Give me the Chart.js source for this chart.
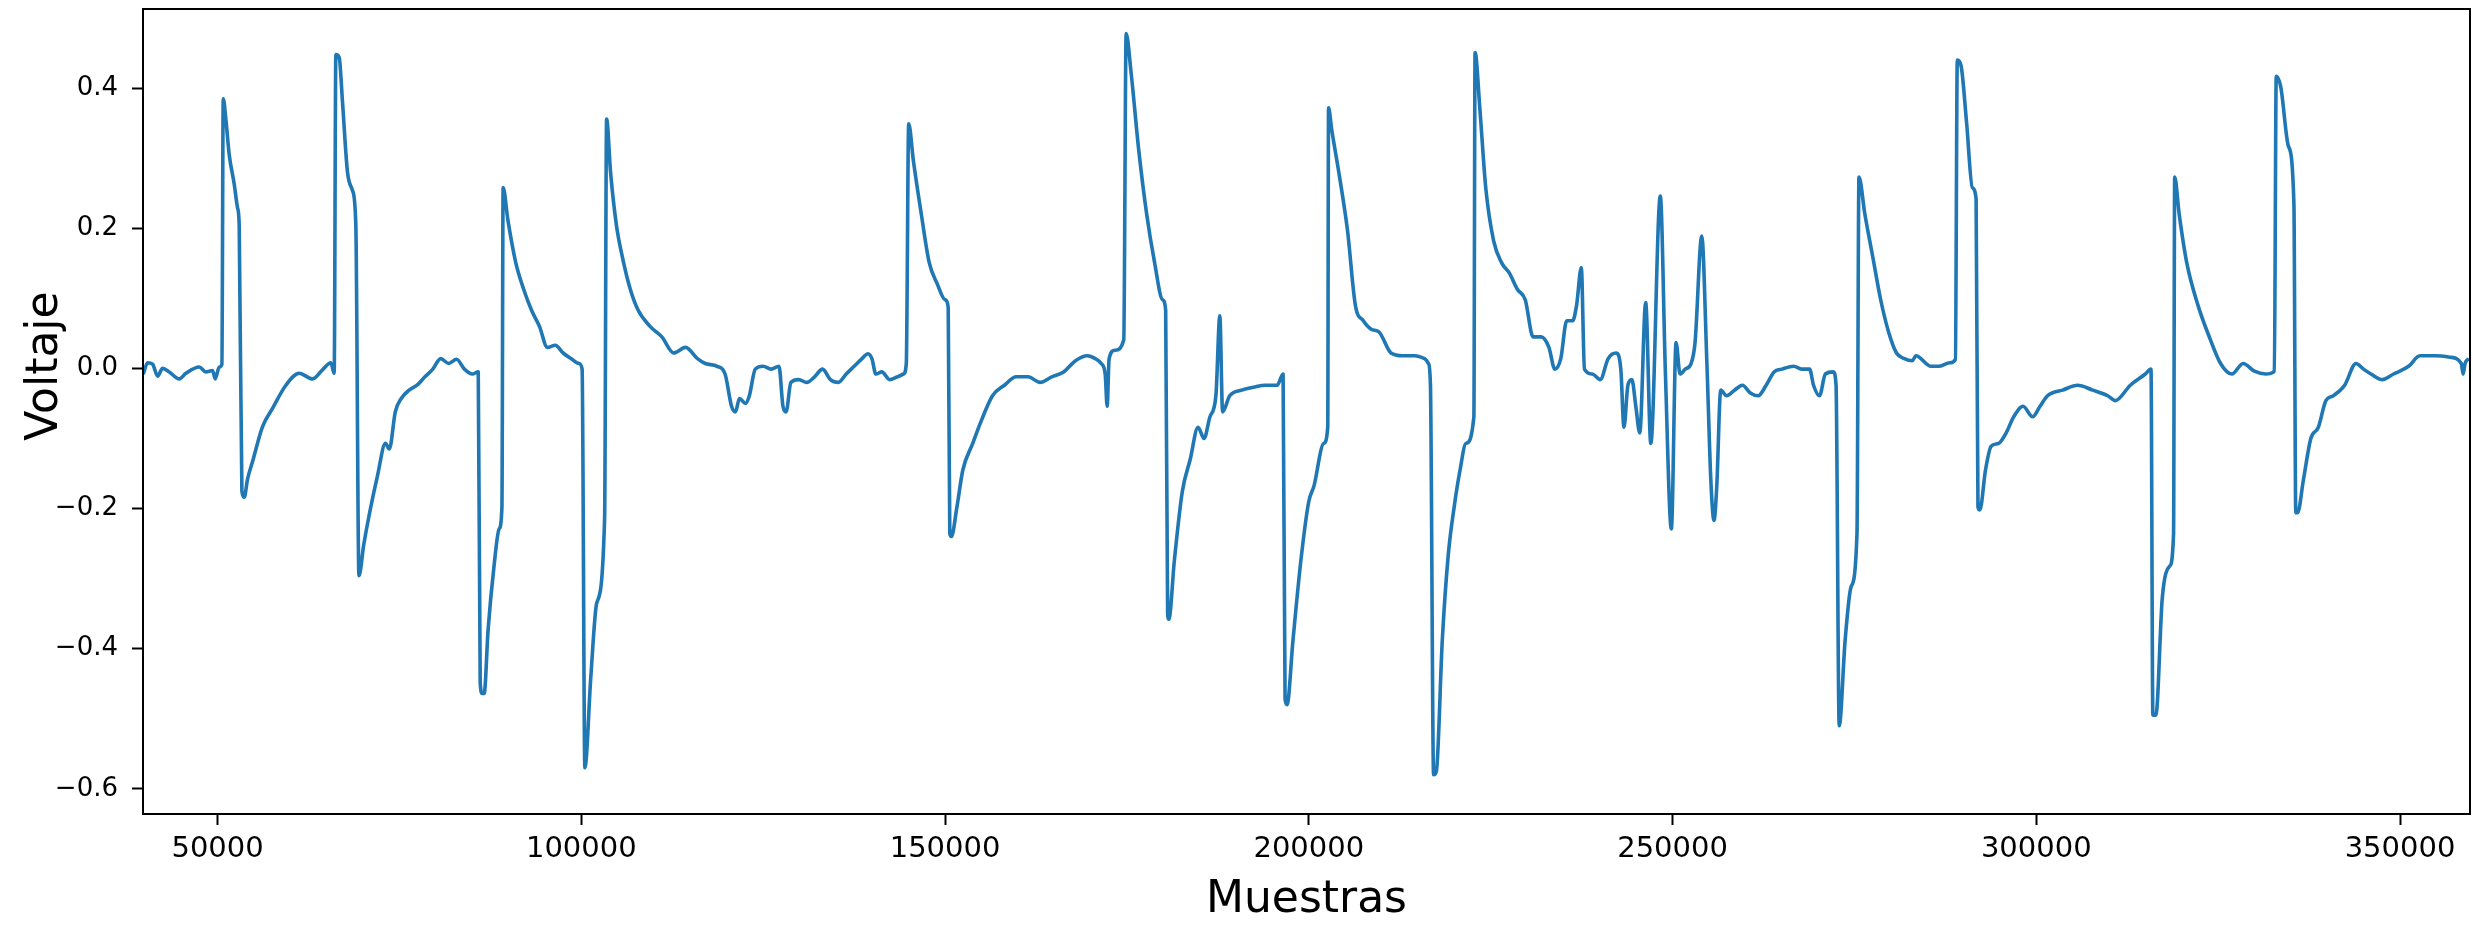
<!DOCTYPE html>
<html>
<head>
<meta charset="utf-8">
<script src="https://cdn.jsdelivr.net/npm/chart.js@4.4.1/dist/chart.umd.min.js"></script>
<style>
  html, body { margin: 0; padding: 0; background: #fff; }
  #wrap { width: 2473px; height: 929px; position: relative; }
</style>
</head>
<body>
<div id="wrap"><canvas id="senalChart"></canvas></div>
<script>
// Muestras (eje x)
const samples = [
  39787, 40382, 41070, 41756, 42443, 43359, 44733, 45649, 47481, 48397, 49313, 49679, 50229, 50595,
  50779, 51145, 51603, 52290, 52748, 52977, 53343, 53664, 54122, 54809, 56183, 57557, 59389, 61221,
  63053, 64427, 65572, 66030, 66259, 66717, 67175, 67862, 68549, 69007, 69436, 70087, 70901, 71987,
  73073, 73616, 74430, 75245, 76331, 77417, 78503, 79589, 80675, 81761, 82847, 83933, 85019, 85833,
  86103, 86374, 86646, 87189, 88003, 88709, 89089, 89252, 89903, 90989, 92075, 93161, 94246, 95332,
  96418, 97504, 98590, 99676, 100110, 100490, 101304, 102119, 103204, 103476, 104019, 104833, 105647,
  106733, 107819, 109447, 111076, 112705, 114334, 115963, 117048, 118677, 119763, 120651, 121194,
  121738, 122553, 123097, 123912, 125000, 126087, 127174, 127718, 128152, 128804, 129891, 130978,
  132065, 133152, 134239, 135326, 136413, 137500, 138587, 139402, 139946, 140489, 141304, 142391,
  143478, 144294, 144674, 145000, 145652, 146739, 147826, 148913, 150000, 150435, 150652, 150870,
  151630, 152446, 153805, 154892, 156522, 158152, 159783, 161413, 163044, 164674, 166305, 167935,
  169566, 170653, 171468, 172012, 172283, 172555, 173370, 174566, 174892, 175544, 176631, 177718,
  178805, 179892, 180327, 180598, 180761, 181522, 182609, 183696, 184783, 185598, 186414, 187229,
  187772, 188152, 189130, 190761, 192391, 194022, 195652, 196467, 196739, 197011, 197826, 198913,
  200000, 200706, 202063, 202606, 202714, 203149, 204235, 205320, 206406, 207492, 208578, 209664,
  211293, 212921, 214550, 215907, 216450, 216722, 217156, 217536, 218350, 219164, 219979, 220793,
  221607, 222693, 222856, 223507, 224322, 225408, 226493, 227579, 228665, 229751, 230837, 231923,
  233008, 233823, 234637, 235452, 236266, 236809, 237460, 237894, 238980, 240066, 241152, 242237,
  242889, 243323, 243866, 244409, 244952, 245495, 246309, 247015, 248318, 249024, 249838, 250489,
  251032, 251738, 252552, 253095, 254018, 254724, 255267, 255701, 256081, 256624, 257438, 258524,
  259610, 260696, 261781, 262867, 263953, 265039, 266668, 267753, 268839, 269382, 270197, 271011,
  272097, 272477, 272911, 273725, 274540, 275354, 275626, 276440, 277526, 278612, 279698, 280784,
  281870, 282956, 283456, 285524, 286558, 288109, 288884, 289143, 289660, 290435, 291211, 291728,
  291986, 292245, 293021, 293796, 294830, 295864, 296898, 298190, 299483, 300517, 301551, 303619,
  305687, 307755, 309823, 310857, 312925, 314993, 315769, 316027, 316441, 317320, 318354, 318871,
  319026, 319646, 320680, 322231, 323782, 325333, 326884, 328435, 329986, 331537, 332726, 332985,
  333605, 334639, 335415, 335673, 335931, 336707, 337741, 338775, 339809, 340843, 342394, 343945,
  344979, 346013, 347564, 349115, 351183, 352734, 354802, 356870, 358421, 358679, 358937, 359454
];

// Voltaje para cada muestra
const voltaje = [
  -0.008, 0.008, 0.006, -0.011, 0.000, -0.005, -0.015, -0.007, 0.002, -0.005, -0.003, -0.015, 0.002, 0.006,
  0.385, 0.355, 0.305, 0.263, 0.229, 0.204, -0.175, -0.184, -0.158, -0.133, -0.083, -0.057, -0.024, -0.007,
  -0.015, -0.002, 0.008, -0.007, 0.448, 0.444, 0.380, 0.280, 0.254, 0.204, -0.296, -0.252, -0.206, -0.153,
  -0.107, -0.115, -0.062, -0.043, -0.031, -0.024, -0.012, -0.001, 0.014, 0.007, 0.013, -0.001, -0.008, -0.005,
  -0.449, -0.464, -0.464, -0.373, -0.282, -0.229, -0.198, 0.258, 0.212, 0.151, 0.113, 0.083, 0.060, 0.030,
  0.033, 0.022, 0.014, 0.007, -0.001, -0.570, -0.441, -0.335, -0.214, 0.356, 0.280, 0.204, 0.159,
  0.113, 0.083, 0.060, 0.045, 0.022, 0.030, 0.014, 0.007, 0.003, -0.008, -0.054, -0.062,
  -0.043, -0.050, -0.039, -0.001, 0.003, -0.001, 0.003, -0.054, -0.062, -0.020, -0.016, -0.020,
  -0.012, -0.001, -0.016, -0.020, -0.008, 0.003, 0.014, 0.021, 0.014, -0.008, -0.005, -0.016,
  -0.012, -0.008, 0.007, 0.349, 0.296, 0.220, 0.151, 0.121, 0.098, 0.087, -0.236, -0.240,
  -0.198, -0.145, -0.107, -0.077, -0.039, -0.024, -0.012, -0.012, -0.020, -0.012, -0.005, 0.011,
  0.018, 0.014, 0.007, -0.008, -0.054, 0.014, 0.026, 0.041, 0.478, 0.425, 0.311, 0.220,
  0.151, 0.098, 0.083, -0.350, -0.358, -0.274, -0.176, -0.130, -0.084, -0.100, -0.069, -0.039,
  0.075, -0.062, -0.039, -0.031, -0.027, -0.024, -0.024, -0.008, -0.472, -0.480, -0.388, -0.274,
  -0.190, -0.168, -0.107, -0.084, 0.372, 0.341, 0.273, 0.197, 0.090, 0.068, 0.056, 0.052,
  0.022, 0.018, 0.018, 0.014, 0.007, -0.024, -0.580, -0.575, -0.388, -0.267, -0.198, -0.145,
  -0.107, -0.069, 0.451, 0.372, 0.258, 0.182, 0.151, 0.136, 0.113, 0.098, 0.045, 0.045,
  0.030, -0.001, 0.014, 0.068, 0.068, 0.090, 0.144, -0.001, -0.008, -0.016, 0.014, 0.022,
  -0.001, -0.084, -0.024, -0.016, -0.054, -0.092, 0.094, -0.107, 0.246, -0.008, -0.229, 0.037,
  -0.008, -0.001, 0.007, 0.037, 0.189, 0.007, -0.160, -0.217, -0.168, -0.031, -0.039, -0.031,
  -0.024, -0.035, -0.039, -0.024, -0.005, -0.001, 0.003, -0.001, -0.001, -0.024, -0.039, -0.008,
  -0.005, -0.024, -0.510, -0.388, -0.312, -0.236, 0.273, 0.220, 0.159, 0.098, 0.052, 0.022,
  0.014, 0.011, 0.018, 0.003, 0.003, 0.008, 0.013, 0.440, 0.432, 0.349, 0.258, 0.242,
  -0.198, -0.202, -0.145, -0.111, -0.107, -0.092, -0.069, -0.054, -0.069, -0.054, -0.039, -0.031,
  -0.024, -0.031, -0.039, -0.046, -0.024, -0.008, -0.001, -0.495, -0.495, -0.328, -0.282, -0.236,
  0.273, 0.220, 0.151, 0.090, 0.045, 0.007, -0.008, 0.007, -0.004, -0.008, -0.004, 0.417,
  0.402, 0.318, 0.235, -0.206, -0.206, -0.160, -0.100, -0.084, -0.046, -0.039, -0.024, 0.007,
  -0.001, -0.008, -0.016, -0.008, 0.003, 0.018, 0.018, 0.016, 0.007, -0.008, 0.007, 0.014
];

// Marcas de los ejes
const xTicks = [50000, 100000, 150000, 200000, 250000, 300000, 350000];
const yTicks = [-0.6, -0.4, -0.2, 0.0, 0.2, 0.4];

const puntos = samples.map((s, i) => ({ x: s, y: voltaje[i] }));

// Marco completo y títulos de los ejes, al estilo matplotlib
const marcoPlugin = {
  id: 'marco',
  afterDraw(chart) {
    const { ctx, chartArea: a } = chart;
    ctx.save();
    ctx.strokeStyle = '#000';
    ctx.lineWidth = 2;
    ctx.strokeRect(a.left, a.top, a.right - a.left, a.bottom - a.top);
    ctx.fillStyle = '#000';
    ctx.font = '44px "DejaVu Sans"';
    ctx.textAlign = 'center';
    ctx.textBaseline = 'alphabetic';
    ctx.fillText('Muestras', (a.left + a.right) / 2, a.bottom + 98);
    ctx.translate(57, a.top + 357);
    ctx.rotate(-Math.PI / 2);
    ctx.fillText('Voltaje', 0, 0);
    ctx.restore();
  }
};

const fuente = 'DejaVu Sans';

const config = {
  type: 'line',
  data: {
    datasets: [{
      label: 'Voltaje',
      data: puntos,
      borderColor: '#1f77b4',
      borderWidth: 3.6,
      borderJoinStyle: 'round',
      cubicInterpolationMode: 'monotone',
      pointRadius: 0,
      fill: false
    }]
  },
  options: {
    responsive: true,
    maintainAspectRatio: false,
    devicePixelRatio: 1,
    animation: false,
    layout: { padding: { top: 9, right: 3, left: 0, bottom: 0 } },
    plugins: {
      legend: { display: false },
      tooltip: { enabled: false }
    },
    scales: {
      x: {
        type: 'linear',
        min: 39750,
        max: 359620,
        afterFit(scale) {
          scale.height = 115;
          scale.paddingLeft = 0;
          scale.paddingRight = 0;
        },
        afterBuildTicks(scale) { scale.ticks = xTicks.map(v => ({ value: v })); },
        ticks: {
          padding: 7,
          color: '#000',
          maxRotation: 0,
          font: { family: fuente, size: 29 },
          callback: v => String(v)
        },
        grid: { drawOnChartArea: false, tickLength: 11, tickWidth: 2, tickColor: '#000' },
        border: { color: '#000', width: 2 }
      },
      y: {
        type: 'linear',
        min: -0.636,
        max: 0.513,
        afterFit(scale) {
          scale.width = 143;
          scale.paddingTop = 0;
          scale.paddingBottom = 0;
        },
        afterBuildTicks(scale) { scale.ticks = yTicks.map(v => ({ value: v })); },
        ticks: {
          padding: 14,
          color: '#000',
          font: { family: fuente, size: 26 },
          callback: v => v.toFixed(1).replace('-', '\u2212')
        },
        grid: { drawOnChartArea: false, tickLength: 11, tickWidth: 2, tickColor: '#000' },
        border: { color: '#000', width: 2 }
      }
    }
  },
  plugins: [marcoPlugin]
};

// Dibujar la gráfica
const ctx = document.getElementById('senalChart').getContext('2d');
new Chart(ctx, config);
</script>
</body>
</html>
